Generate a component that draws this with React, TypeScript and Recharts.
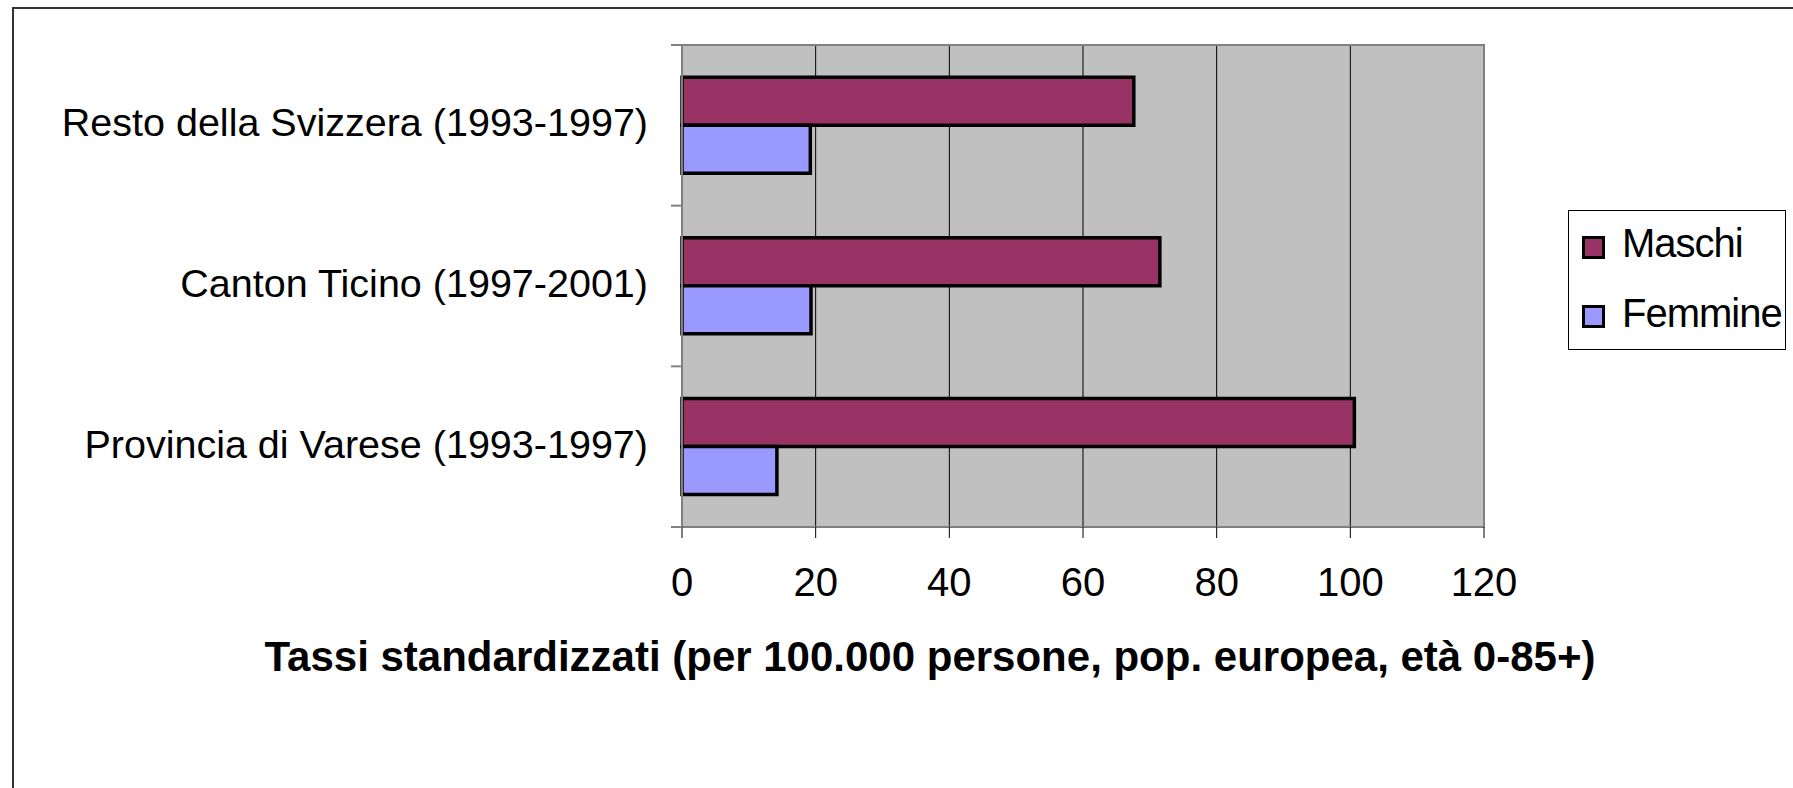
import { BarChart, Bar, XAxis, YAxis, CartesianGrid, ReferenceArea } from 'recharts'

const CATEGORIES = [
  'Resto della Svizzera (1993-1997)',
  'Canton Ticino (1997-2001)',
  'Provincia di Varese (1993-1997)',
]
const MASCHI = [67.6, 71.5, 100.6]
const FEMMINE = [19.2, 19.3, 14.2]
const X_TICKS = [0, 20, 40, 60, 80, 100, 120]

const SERIES = [
  { key: 'maschi', name: 'Maschi', color: '#993366' },
  { key: 'femmine', name: 'Femmine', color: '#9999ff' },
]

const FONT = '"Liberation Sans", Arial, sans-serif'
const TICK_MARGIN = 34
const TICK_LEN = 11

const data = CATEGORIES.map((name, i) => ({
  name,
  maschi: MASCHI[i],
  femmine: FEMMINE[i],
}))

// label plus Excel-style tick marks on the band edges
function CategoryTick({ x, y, payload, index }: any) {
  const half = payload?.offset ?? 80
  const x2 = x + TICK_MARGIN
  const x1 = x2 - TICK_LEN
  const isLast = index === CATEGORIES.length - 1
  return (
    <g>
      <line x1={x1} x2={x2} y1={y - half} y2={y - half} stroke="#808080" strokeWidth={2} />
      {isLast && <line x1={x1} x2={x2} y1={y + half} y2={y + half} stroke="#808080" strokeWidth={2} />}
      <text x={x} y={y} dy={11} textAnchor="end" fontSize={39.5} fontFamily={FONT} fill="#000">
        {payload.value}
      </text>
    </g>
  )
}

export default function App() {
  return (
    <div
      style={{
        position: 'absolute',
        left: 0,
        top: 0,
        width: 1793,
        height: 788,
        background: '#fff',
        overflow: 'hidden',
        fontFamily: FONT,
      }}
    >
      {/* outer frame, only left and top edges are visible */}
      <div
        style={{
          position: 'absolute',
          left: 12,
          top: 7,
          width: 2000,
          height: 2000,
          borderLeft: '2px solid #333',
          borderTop: '2px solid #333',
        }}
      />

      <div style={{ position: 'absolute', left: 0, top: 0 }}>
        <BarChart
          width={1793}
          height={788}
          data={data}
          layout="vertical"
          margin={{ top: 45, right: 309, bottom: 201, left: 0 }}
          barGap={0}
          barCategoryGap="20%"
        >
          <CartesianGrid horizontal={false} stroke="#000" strokeWidth={1} fill="#c0c0c0" fillOpacity={1} />
          <XAxis
            type="number"
            domain={[0, 120]}
            ticks={X_TICKS}
            height={60}
            tickSize={11}
            tickMargin={30}
            axisLine={{ stroke: '#808080', strokeWidth: 2 }}
            tickLine={{ stroke: '#000', strokeWidth: 1 }}
            tick={{ fontSize: 40, fill: '#000', fontFamily: FONT }}
          />
          <YAxis
            type="category"
            dataKey="name"
            width={682}
            tickSize={0}
            tickMargin={TICK_MARGIN}
            tickLine={false}
            axisLine={{ stroke: '#808080', strokeWidth: 2 }}
            tick={<CategoryTick />}
          />
          <ReferenceArea x1={0} x2={120} fill="none" stroke="#808080" strokeWidth={2} ifOverflow="visible" />
          {SERIES.map(s => (
            <Bar
              key={s.key}
              dataKey={s.key}
              name={s.name}
              fill={s.color}
              stroke="#000"
              strokeWidth={3.5}
              isAnimationActive={false}
            />
          ))}
        </BarChart>
      </div>

      {/* axis title */}
      <div
        style={{
          position: 'absolute',
          left: 0,
          top: 636,
          width: 1860,
          textAlign: 'center',
          fontSize: 42,
          fontWeight: 'bold',
          lineHeight: '42px',
          color: '#000',
          whiteSpace: 'nowrap',
        }}
      >
        Tassi standardizzati (per 100.000 persone, pop. europea, età 0-85+)
      </div>

      {/* legend */}
      <div
        style={{
          position: 'absolute',
          left: 1568,
          top: 210,
          width: 216,
          height: 138,
          border: '1px solid #000',
          background: '#fff',
        }}
      >
        {SERIES.map((s, i) => (
          <div key={s.key}>
            <div
              style={{
                position: 'absolute',
                left: 13,
                top: 25 + i * 69,
                width: 17,
                height: 17,
                background: s.color,
                border: '3px solid #000',
              }}
            />
            <div
              style={{
                position: 'absolute',
                left: 53,
                top: 12 + i * 70,
                fontSize: 40,
                lineHeight: '40px',
                letterSpacing: -1,
                color: '#000',
                whiteSpace: 'nowrap',
              }}
            >
              {s.name}
            </div>
          </div>
        ))}
      </div>
    </div>
  )
}
